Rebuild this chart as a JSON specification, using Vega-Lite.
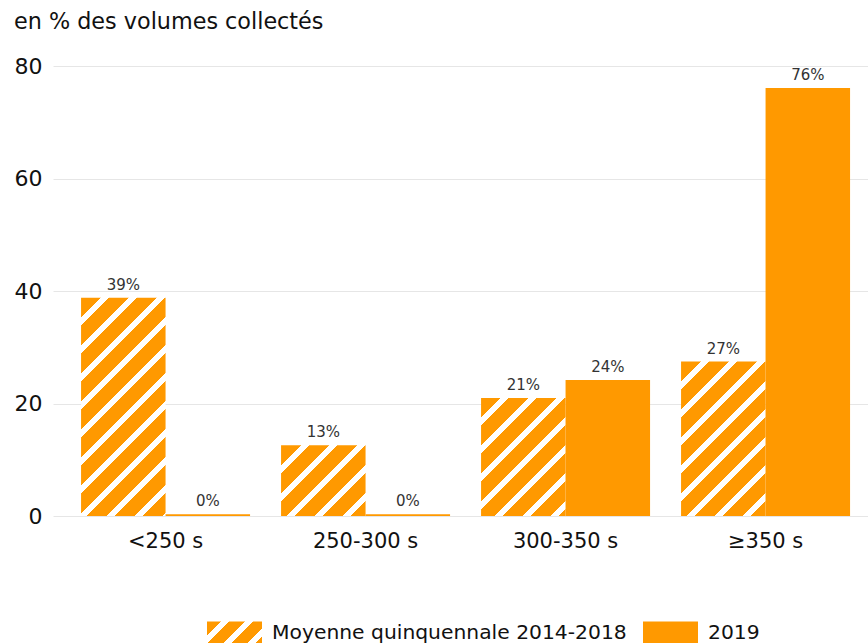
{
  "$schema": "https://vega.github.io/schema/vega-lite/v6.json",
  "width": 815,
  "height": 450,
  "padding": {"left": 14, "top": 10, "right": 0, "bottom": 0},
  "title": {"text": "en % des volumes collectés", "anchor": "start", "frame": "bounds", "fontSize": 22.3, "fontWeight": "normal", "color": "#111111", "offset": 22},
  "config": {
    "font": "DejaVu Sans",
    "view": {"stroke": null},
    "axis": {"gridColor": "#e6e6e6", "gridWidth": 1},
    "legend": {"orient": "none", "direction": "horizontal", "padding": 0, "symbolType": "M-1,-0.4H1V0.4H-1Z", "symbolSize": 3025, "symbolStrokeWidth": 0, "labelFontSize": 20.3, "labelColor": "#111111", "labelOffset": 10, "labelLimit": 1000}
  },
  "data": {
    "values": [
      {"cat": "<250 s", "serie": "Moyenne quinquennale 2014-2018", "val": 38.8},
      {"cat": "<250 s", "serie": "2019", "val": 0.3},
      {"cat": "250-300 s", "serie": "Moyenne quinquennale 2014-2018", "val": 12.6},
      {"cat": "250-300 s", "serie": "2019", "val": 0.3},
      {"cat": "300-350 s", "serie": "Moyenne quinquennale 2014-2018", "val": 21.0},
      {"cat": "300-350 s", "serie": "2019", "val": 24.2},
      {"cat": "≥350 s", "serie": "Moyenne quinquennale 2014-2018", "val": 27.45},
      {"cat": "≥350 s", "serie": "2019", "val": 76.1}
    ]
  },
  "encoding": {
    "x": {"field": "cat", "type": "nominal", "sort": null,
      "scale": {"domain": ["<250 s", "250-300 s", "300-350 s", "≥350 s"], "paddingInner": 0.155, "paddingOuter": 0.115, "align": 0.61},
      "axis": {"title": null, "labelAngle": 0, "labelFontSize": 21, "labelColor": "#111111", "ticks": false, "domain": false, "labelPadding": 14}},
    "xOffset": {"field": "serie", "type": "nominal", "scale": {"domain": ["Moyenne quinquennale 2014-2018", "2019"], "paddingInner": 0, "paddingOuter": 0}},
    "y": {"field": "val", "type": "quantitative",
      "scale": {"domain": [0, 80], "nice": false},
      "axis": {"title": null, "values": [0, 20, 40, 60, 80], "labelFontSize": 22, "labelColor": "#111111", "ticks": false, "domain": false, "labelPadding": 11, "grid": true}}
  },
  "layer": [
    {
      "transform": [{"filter": "datum.serie === 'Moyenne quinquennale 2014-2018'"}],
      "mark": {"type": "bar", "strokeWidth": 0},
      "encoding": {
        "stroke": {"field": "serie", "type": "nominal",
          "scale": {"domain": ["Moyenne quinquennale 2014-2018"], "range": ["#ff9900"]},
          "legend": {"title": null, "legendX": 154, "legendY": 539}},
        "fill": {
          "value": {"gradient": "linear", "x1": 0, "y1": 0, "x2": 1.2069, "y2": 0.48276, "stops": [
              {"offset": 0.18182, "color": "#ff9900"}, {"offset": 0.18182, "color": "#ffffff"}, {"offset": 0.28571, "color": "#ffffff"}, {"offset": 0.28571, "color": "#ff9900"},
              {"offset": 0.49351, "color": "#ff9900"}, {"offset": 0.49351, "color": "#ffffff"}, {"offset": 0.5974, "color": "#ffffff"}, {"offset": 0.5974, "color": "#ff9900"},
              {"offset": 0.80519, "color": "#ff9900"}, {"offset": 0.80519, "color": "#ffffff"}, {"offset": 0.90909, "color": "#ffffff"}, {"offset": 0.90909, "color": "#ff9900"}
            ]},
          "condition": [
            {"test": "datum.cat === '<250 s'", "value": {"gradient": "linear", "x1": 0, "y1": 0, "x2": 0.46707, "y2": 1.20636, "stops": [
              {"offset": 0.06606, "color": "#ff9900"}, {"offset": 0.06606, "color": "#ffffff"}, {"offset": 0.09249, "color": "#ffffff"}, {"offset": 0.09249, "color": "#ff9900"},
              {"offset": 0.15855, "color": "#ff9900"}, {"offset": 0.15855, "color": "#ffffff"}, {"offset": 0.18497, "color": "#ffffff"}, {"offset": 0.18497, "color": "#ff9900"},
              {"offset": 0.25103, "color": "#ff9900"}, {"offset": 0.25103, "color": "#ffffff"}, {"offset": 0.27746, "color": "#ffffff"}, {"offset": 0.27746, "color": "#ff9900"},
              {"offset": 0.34352, "color": "#ff9900"}, {"offset": 0.34352, "color": "#ffffff"}, {"offset": 0.36994, "color": "#ffffff"}, {"offset": 0.36994, "color": "#ff9900"},
              {"offset": 0.436, "color": "#ff9900"}, {"offset": 0.436, "color": "#ffffff"}, {"offset": 0.46243, "color": "#ffffff"}, {"offset": 0.46243, "color": "#ff9900"},
              {"offset": 0.52849, "color": "#ff9900"}, {"offset": 0.52849, "color": "#ffffff"}, {"offset": 0.55491, "color": "#ffffff"}, {"offset": 0.55491, "color": "#ff9900"},
              {"offset": 0.62098, "color": "#ff9900"}, {"offset": 0.62098, "color": "#ffffff"}, {"offset": 0.6474, "color": "#ffffff"}, {"offset": 0.6474, "color": "#ff9900"},
              {"offset": 0.71346, "color": "#ff9900"}, {"offset": 0.71346, "color": "#ffffff"}, {"offset": 0.73989, "color": "#ffffff"}, {"offset": 0.73989, "color": "#ff9900"},
              {"offset": 0.80595, "color": "#ff9900"}, {"offset": 0.80595, "color": "#ffffff"}, {"offset": 0.83237, "color": "#ffffff"}, {"offset": 0.83237, "color": "#ff9900"},
              {"offset": 0.89843, "color": "#ff9900"}, {"offset": 0.89843, "color": "#ffffff"}, {"offset": 0.92486, "color": "#ffffff"}, {"offset": 0.92486, "color": "#ff9900"},
              {"offset": 0.99092, "color": "#ff9900"}, {"offset": 0.99092, "color": "#ffffff"}, {"offset": 1, "color": "#ffffff"}
            ]}},
            {"test": "datum.cat === '250-300 s'", "value": {"gradient": "linear", "x1": 0, "y1": 0, "x2": 1.0794, "y2": 0.90536, "stops": [
              {"offset": 0.12872, "color": "#ff9900"}, {"offset": 0.12872, "color": "#ffffff"}, {"offset": 0.18021, "color": "#ffffff"}, {"offset": 0.18021, "color": "#ff9900"},
              {"offset": 0.30893, "color": "#ff9900"}, {"offset": 0.30893, "color": "#ffffff"}, {"offset": 0.36042, "color": "#ffffff"}, {"offset": 0.36042, "color": "#ff9900"},
              {"offset": 0.48914, "color": "#ff9900"}, {"offset": 0.48914, "color": "#ffffff"}, {"offset": 0.54063, "color": "#ffffff"}, {"offset": 0.54063, "color": "#ff9900"},
              {"offset": 0.66935, "color": "#ff9900"}, {"offset": 0.66935, "color": "#ffffff"}, {"offset": 0.72084, "color": "#ffffff"}, {"offset": 0.72084, "color": "#ff9900"},
              {"offset": 0.84956, "color": "#ff9900"}, {"offset": 0.84956, "color": "#ffffff"}, {"offset": 0.90105, "color": "#ffffff"}, {"offset": 0.90105, "color": "#ff9900"}
            ]}},
            {"test": "datum.cat === '300-350 s'", "value": {"gradient": "linear", "x1": 0, "y1": 0, "x2": 0.8117, "y2": 1.1347, "stops": [
              {"offset": 0.0987, "color": "#ff9900"}, {"offset": 0.0987, "color": "#ffffff"}, {"offset": 0.13819, "color": "#ffffff"}, {"offset": 0.13819, "color": "#ff9900"},
              {"offset": 0.23689, "color": "#ff9900"}, {"offset": 0.23689, "color": "#ffffff"}, {"offset": 0.27637, "color": "#ffffff"}, {"offset": 0.27637, "color": "#ff9900"},
              {"offset": 0.37508, "color": "#ff9900"}, {"offset": 0.37508, "color": "#ffffff"}, {"offset": 0.41456, "color": "#ffffff"}, {"offset": 0.41456, "color": "#ff9900"},
              {"offset": 0.51326, "color": "#ff9900"}, {"offset": 0.51326, "color": "#ffffff"}, {"offset": 0.55275, "color": "#ffffff"}, {"offset": 0.55275, "color": "#ff9900"},
              {"offset": 0.65145, "color": "#ff9900"}, {"offset": 0.65145, "color": "#ffffff"}, {"offset": 0.69093, "color": "#ffffff"}, {"offset": 0.69093, "color": "#ff9900"},
              {"offset": 0.78964, "color": "#ff9900"}, {"offset": 0.78964, "color": "#ffffff"}, {"offset": 0.82912, "color": "#ffffff"}, {"offset": 0.82912, "color": "#ff9900"},
              {"offset": 0.92782, "color": "#ff9900"}, {"offset": 0.92782, "color": "#ffffff"}, {"offset": 0.9673, "color": "#ffffff"}, {"offset": 0.9673, "color": "#ff9900"}
            ]}},
            {"test": "datum.cat === '≥350 s'", "value": {"gradient": "linear", "x1": 0, "y1": 0, "x2": 0.65162, "y2": 1.19066, "stops": [
              {"offset": 0.08372, "color": "#ff9900"}, {"offset": 0.08372, "color": "#ffffff"}, {"offset": 0.1172, "color": "#ffffff"}, {"offset": 0.1172, "color": "#ff9900"},
              {"offset": 0.20092, "color": "#ff9900"}, {"offset": 0.20092, "color": "#ffffff"}, {"offset": 0.23441, "color": "#ffffff"}, {"offset": 0.23441, "color": "#ff9900"},
              {"offset": 0.31813, "color": "#ff9900"}, {"offset": 0.31813, "color": "#ffffff"}, {"offset": 0.35161, "color": "#ffffff"}, {"offset": 0.35161, "color": "#ff9900"},
              {"offset": 0.43533, "color": "#ff9900"}, {"offset": 0.43533, "color": "#ffffff"}, {"offset": 0.46882, "color": "#ffffff"}, {"offset": 0.46882, "color": "#ff9900"},
              {"offset": 0.55253, "color": "#ff9900"}, {"offset": 0.55253, "color": "#ffffff"}, {"offset": 0.58602, "color": "#ffffff"}, {"offset": 0.58602, "color": "#ff9900"},
              {"offset": 0.66974, "color": "#ff9900"}, {"offset": 0.66974, "color": "#ffffff"}, {"offset": 0.70322, "color": "#ffffff"}, {"offset": 0.70322, "color": "#ff9900"},
              {"offset": 0.78694, "color": "#ff9900"}, {"offset": 0.78694, "color": "#ffffff"}, {"offset": 0.82043, "color": "#ffffff"}, {"offset": 0.82043, "color": "#ff9900"},
              {"offset": 0.90415, "color": "#ff9900"}, {"offset": 0.90415, "color": "#ffffff"}, {"offset": 0.93763, "color": "#ffffff"}, {"offset": 0.93763, "color": "#ff9900"}
            ]}}
          ]
        }
      }
    },
    {
      "transform": [{"filter": "datum.serie === '2019'"}],
      "mark": {"type": "bar", "strokeWidth": 0},
      "encoding": {
        "fill": {"field": "serie", "type": "nominal",
          "scale": {"domain": ["2019"], "range": ["#ff9900"]},
          "legend": {"title": null, "legendX": 590, "legendY": 539}}
      }
    },
    {
      "mark": {"type": "text", "baseline": "alphabetic", "dy": -8, "fontSize": 15, "color": "#333333", "text": {"expr": "format(datum.val, '.0f') + '%'"}},
      "encoding": {}
    }
  ]
}
